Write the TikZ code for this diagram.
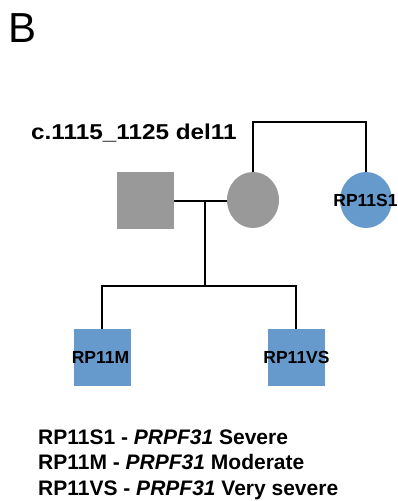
\documentclass[tikz,border=0pt]{standalone}
\usepackage{fontspec}
\setmainfont{Liberation Sans}
\usetikzlibrary{shapes.geometric}
\definecolor{pedgray}{HTML}{999999}
\definecolor{pedblue}{HTML}{6699CC}
\tikzset{
  sq/.style={rectangle, minimum width=57pt, minimum height=57pt, inner sep=0pt, draw=none},
  ci/.style={ellipse, minimum width=52pt, minimum height=56pt, inner sep=0pt, draw=none},
  conn/.style={line width=2.2pt, black},
  lab/.style={font=\fontsize{17.5}{20}\selectfont\bfseries, inner sep=0pt},
  leg/.style={font=\fontsize{21}{25}\selectfont\bfseries, inner sep=0pt, anchor=base west},
}
\begin{document}
\begin{tikzpicture}[x=1pt,y=-1pt]
\useasboundingbox (0,0) rectangle (398,501);
\fill[white] (0,0) rectangle (398,501);
% panel letter
\node[anchor=base west, inner sep=0pt, font=\fontsize{42}{48}\selectfont] (panel) at (8,42) {B};
% mutation label
\node[anchor=base west, inner sep=0pt, font=\fontsize{21.5}{25}\selectfont\bfseries] (mut) at (31,139) {\scalebox{1.13}[1]{c.1115\_1125 del11}};
% individuals
\node[sq, fill=pedgray] (fa) at (145.5,200) {};
\node[ci, fill=pedgray] (mo) at (253,200) {};
\node[ci, fill=pedblue] (s1) at (366,200) {};
\node[sq, fill=pedblue] (c1) at (102,357.5) {};
\node[sq, fill=pedblue] (c2) at (296,357.5) {};
% labels
\node[lab] (s1lab) at (365.5,200) {RP11S1};
\node[lab] (c1lab) at (100.5,357.5) {RP11M};
\node[lab] (c2lab) at (296.5,357.5) {RP11VS};
% connectors
\coordinate (topr) at (366,122);
\coordinate (mid) at (205,201);
\coordinate (sib) at (205,286);
\draw[conn] (mo.north) |- (topr) -- (s1.north);
\draw[conn] (fa.east |- mid) -- (mo.west |- mid);
\draw[conn] (mid) -- (sib);
\draw[conn] (c1.north) |- (sib) -| (c2.north);
% legend
\node[leg] (l1) at (38,444) {RP11S1 - \textit{PRPF31} Severe};
\node[leg] (l2) at (38,469.5) {RP11M - \textit{PRPF31} Moderate};
\node[leg] (l3) at (38,495) {RP11VS - \textit{PRPF31} Very severe};
\end{tikzpicture}
\end{document}
